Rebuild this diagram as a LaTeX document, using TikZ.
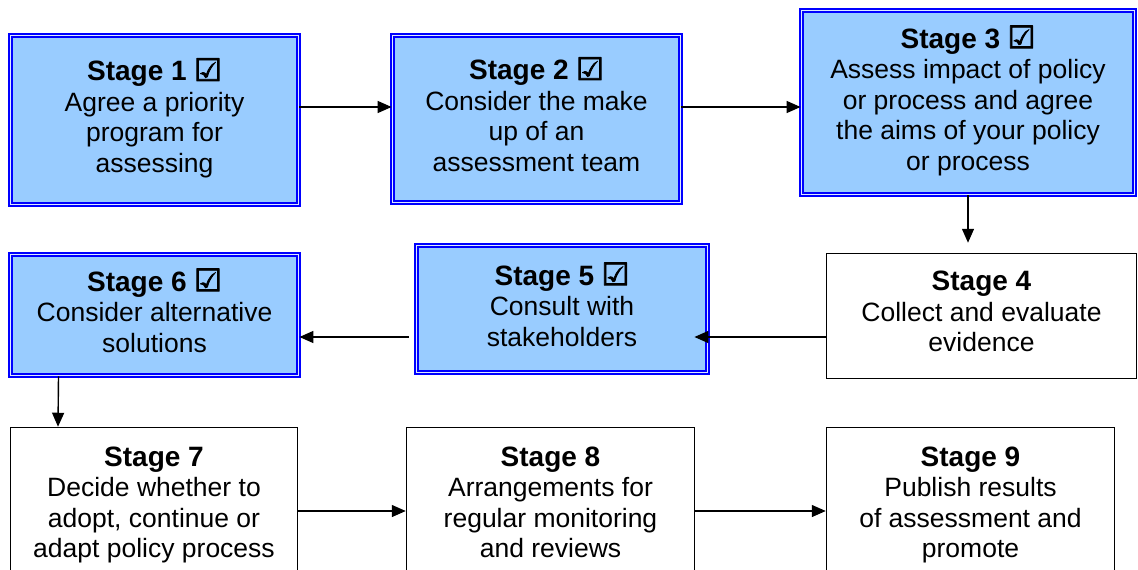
\documentclass[tikz,border=0pt]{standalone}
\usepackage{fontspec}
\setmainfont{Liberation Sans}
\newfontfamily\symfont[FakeBold=2.5]{DejaVu Sans}
\usepackage{xcolor}
\usepackage{tikz}
\usetikzlibrary{arrows.meta,positioning}
\definecolor{stageblue}{HTML}{0000FF}
\definecolor{stagefill}{HTML}{99CCFF}
\definecolor{stagegap}{HTML}{DDEBFF}
\newcommand{\chkbox}{~{\symfont\fontsize{31}{30}\selectfont ☑}}
\newcommand{\stagehead}[1]{{\fontsize{28}{30}\selectfont\bfseries Stage #1}}

\begin{document}
\begin{tikzpicture}[
  x=1pt, y=-1pt,
  done_box/.style={draw=stageblue, double=stagegap, line width=1.8pt, double distance=1pt, fill=stagefill, align=center, inner sep=0pt, font=\fontsize{26.5}{30.5}\selectfont},
  todo_box/.style={draw=black, line width=1.5pt, fill=white, align=center, inner sep=0pt, font=\fontsize{26.5}{30.5}\selectfont},
  arr/.style     ={-{Triangle[length=14pt, width=12pt]}, line width=1.4pt, black},
]
  \useasboundingbox (0,0) rectangle (1138,570);

  \node[done_box, minimum width=288pt, minimum height=169pt] (s1) at (154.5,120) {\stagehead{1}\chkbox\\Agree a priority\\program for\\assessing\strut};
  \node[done_box, minimum width=288pt, minimum height=167pt] (s2) at (536.5,119) {\stagehead{2}\chkbox\\Consider the make\\up of an\\assessment team\strut};
  \node[done_box, minimum width=333pt, minimum height=184pt] (s3) at (968,102.5) {\stagehead{3}\chkbox\\Assess impact of policy\\or process and agree\\the aims of your policy\\or process\strut};
  \node[todo_box, minimum width=310pt, minimum height=125pt] (s4) at (981.5,316) {\stagehead{4}\\Collect and evaluate\\evidence\strut};
  \node[done_box, minimum width=291pt, minimum height=127pt] (s5) at (562,309) {\stagehead{5}\chkbox\\Consult with\\stakeholders\strut};
  \node[done_box, minimum width=288pt, minimum height=121pt] (s6) at (154.5,315) {\stagehead{6}\chkbox\\Consider alternative\\solutions\strut};
  \node[todo_box, minimum width=287pt, minimum height=159pt] (s7) at (154,507) {\stagehead{7}\\Decide whether to\\adopt, continue or\\adapt policy process\strut};
  \node[todo_box, minimum width=288pt, minimum height=159pt] (s8) at (550.5,507) {\stagehead{8}\\Arrangements for\\regular monitoring\\and reviews\strut};
  \node[todo_box, minimum width=288pt, minimum height=159pt] (s9) at (970.5,507) {\stagehead{9}\\Publish results\\of assessment and\\promote\strut};

  \draw[arr] ([yshift=13pt]s1.east) -- ([yshift=12pt]s2.west);
  \draw[arr] ([yshift=12pt]s2.east) -- ([yshift=-4.5pt]s3.west);
  \draw[arr, shorten >=10pt] (s3.south) -- (s3.south |- s4.north);
  \draw[arr, shorten >=-14pt] ([yshift=-21pt]s4.west) -- ([yshift=-28pt]s5.east);
  \draw[arr, shorten <=7pt] ([yshift=-28pt]s5.west) -- ([yshift=-22pt]s6.east);
  \draw[arr] ([xshift=-96pt]s6.south) -- ([xshift=-96pt]s7.north);
  \draw[arr] ([yshift=-4pt]s7.east) -- ([yshift=-4pt]s8.west);
  \draw[arr] ([yshift=-4pt]s8.east) -- ([yshift=-4pt]s9.west);
\end{tikzpicture}
\end{document}
